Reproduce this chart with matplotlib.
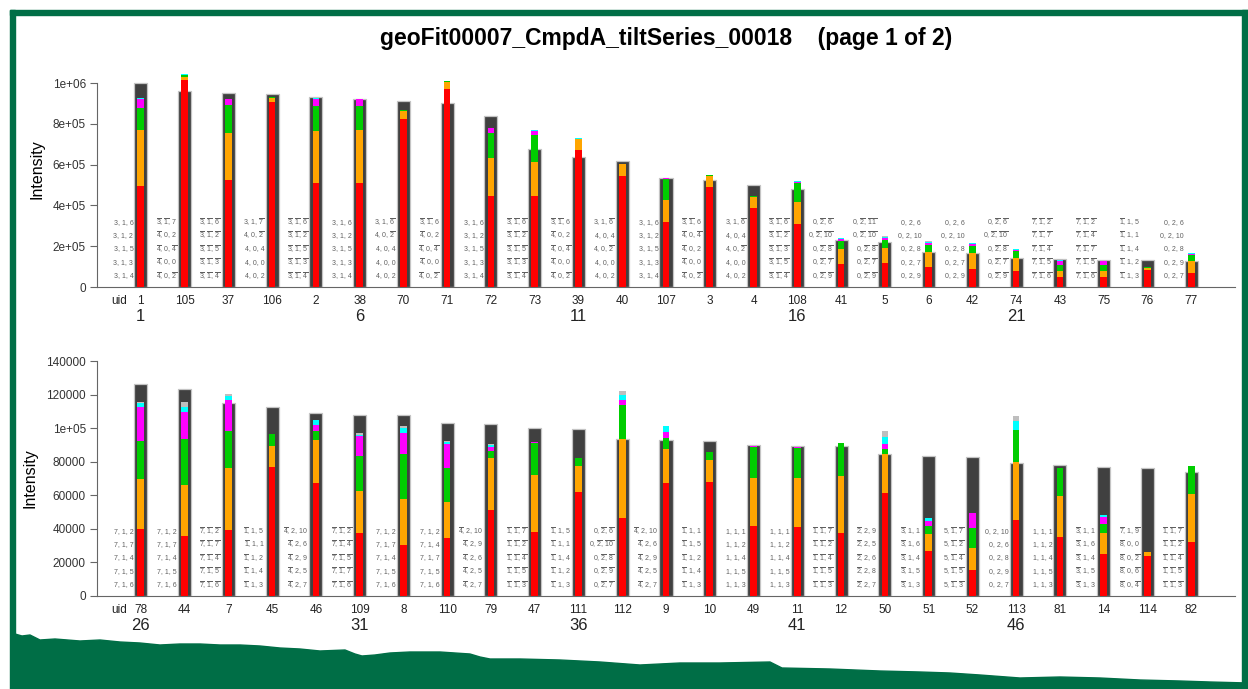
import matplotlib
matplotlib.use("Agg")
import matplotlib.pyplot as plt
import matplotlib.transforms as mtransforms
from matplotlib.patches import Rectangle, Polygon

plt.rcParams['font.family'] = ['Liberation Sans', 'DejaVu Sans']
plt.rcParams['mathtext.fontset'] = 'custom'
plt.rcParams['mathtext.rm'] = 'Liberation Sans'
plt.rcParams['mathtext.it'] = 'Liberation Sans'

TITLE = "geoFit00007_CmpdA_tiltSeries_00018    (page 1 of 2)"

# ---- page part 1 (reflections 1..25) ----
uids_top = [1, 105, 37, 106, 2, 38, 70, 71, 72, 73, 39, 40, 107, 3, 4, 108,
            41, 5, 6, 42, 74, 43, 75, 76, 77]
obs_top = [998e3, 959e3, 952e3, 948e3, 930e3, 923e3, 914e3, 900e3, 840e3, 678e3,
           639e3, 618e3, 533e3, 526e3, 498e3, 480e3, 230e3, 221e3, 173e3, 165e3,
           141e3, 136e3, 132e3, 132e3, 129e3]
red_top = [497e3, 1015e3, 523e3, 905e3, 511e3, 511e3, 825e3, 969e3, 448e3, 448e3,
           673e3, 546e3, 317e3, 490e3, 389e3, 310e3, 111e3, 119e3, 97e3, 90e3,
           78e3, 48e3, 49e3, 83e3, 67e3]
orange_top = [274e3, 16e3, 233e3, 20e3, 254e3, 259e3, 38e3, 34e3, 186e3, 163e3,
              51e3, 55e3, 108e3, 56e3, 54e3, 108e3, 74e3, 72e3, 73e3, 75e3,
              66e3, 32e3, 31e3, 9e3, 62e3]
green_top = [105e3, 8e3, 135e3, 6e3, 122e3, 117e3, 5e3, 7e3, 119e3, 134e3,
             2e3, 2e3, 103e3, 2e3, 5e3, 90e3, 40e3, 39e3, 36e3, 36e3,
             31e3, 26e3, 26e3, 8e3, 28e3]
magenta_top = [47e3, 0, 30e3, 0, 36e3, 34e3, 0, 0, 25e3, 20e3,
               0, 0, 6e3, 0, 0, 7e3, 10e3, 10e3, 8e3, 8e3,
               8e3, 23e3, 20e3, 0, 4e3]
cyan_top = [3e3, 3e3, 3e3, 1e3, 3e3, 3e3, 1e3, 2e3, 3e3, 3e3,
            3e3, 0, 2e3, 1e3, 0, 6e3, 5e3, 6e3, 7e3, 6e3,
            4e3, 4e3, 3e3, 0, 5e3]
grey_top = [0, 2e3, 0, 0, 0, 0, 0, 0, 0, 0,
            0, 0, 0, 0, 0, 0, 2e3, 2e3, 3e3, 2e3,
            1e3, 3e3, 0, 0, 2e3]
hkl_top = [
    ["3,1,6", "3,1,2", "3,1,5", "3,1,3", "3,1,4"],
    ["-3,-1,7", "-4,0,2", "-4,0,-4", "-4,0,0", "-4,0,-2"],
    ["-3,-1,-6", "-3,-1,-2", "-3,-1,-5", "-3,-1,-3", "-3,-1,-4"],
    ["3,1,-7", "4,0,-2", "4,0,4", "4,0,0", "4,0,2"],
    ["-3,-1,-6", "-3,-1,-2", "-3,-1,-5", "-3,-1,-3", "-3,-1,-4"],
    ["3,1,6", "3,1,2", "3,1,5", "3,1,3", "3,1,4"],
    ["3,1,-6", "4,0,-2", "4,0,4", "4,0,0", "4,0,2"],
    ["-3,-1,6", "-4,0,2", "-4,0,-4", "-4,0,0", "-4,0,-2"],
    ["3,1,6", "3,1,2", "3,1,5", "3,1,3", "3,1,4"],
    ["-3,-1,-6", "-3,-1,-2", "-3,-1,-5", "-3,-1,-3", "-3,-1,-4"],
    ["-3,-1,6", "-4,0,2", "-4,0,-4", "-4,0,0", "-4,0,-2"],
    ["3,1,-6", "4,0,4", "4,0,-2", "4,0,0", "4,0,2"],
    ["3,1,6", "3,1,2", "3,1,5", "3,1,3", "3,1,4"],
    ["-3,-1,6", "-4,0,-4", "-4,0,2", "-4,0,0", "-4,0,-2"],
    ["3,1,-6", "4,0,4", "4,0,-2", "4,0,0", "4,0,2"],
    ["-3,-1,-6", "-3,-1,-2", "-3,-1,-3", "-3,-1,-5", "-3,-1,-4"],
    ["0,-2,-6", "0,-2,-10", "0,-2,-8", "0,-2,-7", "0,-2,-9"],
    ["0,-2,-11", "0,-2,-10", "0,-2,-8", "0,-2,-7", "0,-2,-9"],
    ["0,2,6", "0,2,10", "0,2,8", "0,2,7", "0,2,9"],
    ["0,2,6", "0,2,10", "0,2,8", "0,2,7", "0,2,9"],
    ["0,-2,-6", "0,-2,-10", "0,-2,-8", "0,-2,-7", "0,-2,-9"],
    ["-7,-1,-2", "-7,-1,-7", "-7,-1,-4", "-7,-1,-5", "-7,-1,-6"],
    ["-7,-1,-2", "-7,-1,-4", "-7,-1,-7", "-7,-1,-5", "-7,-1,-6"],
    ["-1,1,5", "-1,1,1", "-1,1,4", "-1,1,2", "-1,1,3"],
    ["0,2,6", "0,2,10", "0,2,8", "0,2,9", "0,2,7"],
]

# ---- page part 2 (reflections 26..50) ----
uids_bot = [78, 44, 7, 45, 46, 109, 8, 110, 79, 47, 111, 112, 9, 10, 49, 11,
            12, 50, 51, 52, 113, 81, 14, 114, 82]
obs_bot = [126300, 123500, 115000, 112600, 109000, 107600, 107600, 103200, 102300, 100300,
           99700, 93700, 92900, 92100, 90000, 89200, 89400, 84600, 83400, 82800,
           79200, 78000, 76800, 76300, 73900]
red_bot = [39900, 35900, 39300, 77000, 67100, 37700, 30200, 34400, 51000, 38100,
           62000, 46600, 67300, 68100, 41500, 41100, 37700, 61400, 27000, 15500,
           45300, 35300, 24800, 23800, 32300]
orange_bot = [29600, 30400, 37100, 12100, 25600, 24800, 27600, 21800, 31400, 33800,
              15600, 46700, 20100, 13100, 29000, 29000, 33800, 23200, 9800, 12900,
              34500, 24300, 12500, 2200, 28700]
green_bot = [22800, 27200, 21700, 7200, 5400, 21100, 26600, 20200, 4000, 19400,
             4400, 20300, 6700, 4800, 18300, 18300, 19600, 3000, 5100, 11900,
             19100, 16700, 5600, 300, 16400]
magenta_bot = [20400, 16300, 18700, 0, 3900, 11900, 12700, 14300, 2200, 600,
               0, 3300, 3800, 0, 400, 400, 0, 3000, 3000, 9000,
               0, 0, 4000, 0, 0]
cyan_bot = [2400, 2600, 2500, 0, 2800, 700, 3200, 1000, 1200, 0,
            0, 2800, 3400, 0, 0, 0, 0, 4000, 1400, 0,
            5400, 0, 1400, 0, 0]
grey_bot = [500, 3000, 800, 0, 0, 700, 800, 600, 700, 0,
            0, 2600, 0, 0, 0, 0, 0, 3700, 0, 0,
            2900, 0, 0, 0, 0]
hkl_bot = [
    ["7,1,2", "7,1,7", "7,1,4", "7,1,5", "7,1,6"],
    ["7,1,2", "7,1,7", "7,1,4", "7,1,5", "7,1,6"],
    ["-7,-1,-2", "-7,-1,-7", "-7,-1,-4", "-7,-1,-5", "-7,-1,-6"],
    ["-1,1,5", "-1,1,1", "-1,1,2", "-1,1,4", "-1,1,3"],
    ["-4,2,10", "-4,2,6", "-4,2,9", "-4,2,5", "-4,2,7"],
    ["-7,-1,-2", "-7,-1,-4", "-7,-1,-5", "-7,-1,-7", "-7,-1,-6"],
    ["7,1,2", "7,1,7", "7,1,4", "7,1,5", "7,1,6"],
    ["7,1,2", "7,1,4", "7,1,7", "7,1,5", "7,1,6"],
    ["-4,2,10", "-4,2,9", "-4,2,6", "-4,2,5", "-4,2,7"],
    ["-1,-1,-7", "-1,-1,-2", "-1,-1,-4", "-1,-1,-5", "-1,-1,-3"],
    ["-1,1,5", "-1,1,1", "-1,1,4", "-1,1,2", "-1,1,3"],
    ["0,-2,-6", "0,-2,-10", "0,-2,-8", "0,-2,-9", "0,-2,-7"],
    ["-4,2,10", "-4,2,6", "-4,2,9", "-4,2,5", "-4,2,7"],
    ["-1,1,1", "-1,1,5", "-1,1,2", "-1,1,4", "-1,1,3"],
    ["1,1,1", "1,1,2", "1,1,4", "1,1,5", "1,1,3"],
    ["1,1,1", "1,1,2", "1,1,4", "1,1,5", "1,1,3"],
    ["-1,-1,-7", "-1,-1,-2", "-1,-1,-4", "-1,-1,-5", "-1,-1,-3"],
    ["-2,2,9", "-2,2,5", "-2,2,6", "-2,2,8", "-2,2,7"],
    ["-3,1,1", "-3,1,6", "-3,1,4", "-3,1,5", "-3,1,3"],
    ["5,-1,-7", "5,-1,-2", "5,-1,-4", "5,-1,-5", "5,-1,-3"],
    ["0,2,10", "0,2,6", "0,2,8", "0,2,9", "0,2,7"],
    ["1,1,1", "1,1,2", "1,1,4", "1,1,5", "1,1,3"],
    ["-3,1,1", "-3,1,6", "-3,1,4", "-3,1,5", "-3,1,3"],
    ["-7,1,-9", "-8,0,0", "-8,0,-2", "-8,0,-6", "-8,0,-4"],
    ["-1,-1,-7", "-1,-1,-2", "-1,-1,-4", "-1,-1,-5", "-1,-1,-3"],
]

yticks_top = [0, 2e5, 4e5, 6e5, 8e5, 1e6]
yticklabels_top = ["0", "2e+05", "4e+05", "6e+05", "8e+05", "1e+06"]
yticks_bot = [0, 20000, 40000, 60000, 80000, 100000, 120000, 140000]
yticklabels_bot = ["0", "20000", "40000", "60000", "80000", "1e+05", "120000", "140000"]

# decorative footer outline (pixel x, pixel y)
footer_x = [11, 15, 22, 30, 40, 55, 80, 100, 120, 140, 160, 180, 200, 220, 240, 260,
            280, 300, 320, 345, 355, 362, 375, 390, 410, 440, 470, 480, 490, 520,
            560, 600, 640, 680, 720, 770, 776, 782, 830, 880, 920, 950, 980, 1020,
            1060, 1100, 1140, 1180, 1210, 1248]
footer_y = [632, 634, 636, 635, 640, 639, 641, 640, 642, 643, 645, 644, 644, 645, 645, 646,
            648, 649, 651, 650, 654, 656, 655, 653, 652, 652, 654, 657, 659, 659,
            660, 662, 665, 663, 663, 662, 665, 668, 669, 671, 672, 673, 675, 678,
            677, 678, 680, 681, 682, 683]

seg_colors = ['#ff0000', '#ffa500', '#00cd00', '#ff00ff', '#00ffff', '#bebebe']
GREEN = '#006e46'
W, H = 1248, 689


def hkl_text(s):
    out = []
    for p in s.split(','):
        if p.startswith('-'):
            out.append(r'$\overline{%s}$' % p[1:])
        else:
            out.append(p)
    return ', '.join(out)


def draw_panel(ax, uids, obs, segs, hkls, first, ytop, yticks, yticklabels):
    x = list(range(len(uids)))
    ax.bar(x, obs, width=0.30, color='#404040', edgecolor='#c4c4c4', linewidth=0.9, zorder=2)
    bottom = [0.0] * len(uids)
    for vals, c in zip(segs, seg_colors):
        ax.bar(x, vals, width=0.15, bottom=bottom, color=c, linewidth=0, zorder=3)
        bottom = [b + v for b, v in zip(bottom, vals)]

    ax.set_xlim(-1, 25)
    ax.set_ylim(0, ytop)
    for s in ['top', 'right']:
        ax.spines[s].set_visible(False)
    ax.spines['left'].set_bounds(yticks[0], yticks[-1])
    ax.spines['left'].set_color('#666666')
    ax.spines['bottom'].set_color('#666666')
    ax.set_xticks([])
    ax.set_yticks(yticks)
    ax.set_yticklabels(yticklabels)
    ax.tick_params(axis='y', length=5, width=0.8, color='#666666', labelsize=8.5,
                   labelcolor='#333333', pad=3)
    ax.set_ylabel('Intensity', fontsize=11.5, labelpad=6)

    tr = mtransforms.blended_transform_factory(ax.transData, ax.transAxes)
    rows = [0.275, 0.218, 0.161, 0.104, 0.047]
    for i, labs in enumerate(hkls):
        for r, lab in zip(rows, labs):
            ax.text(i - 0.17, r, hkl_text(lab), transform=tr, ha='right', va='center',
                    fontsize=5, color='#606060')
        ax.text(i, -0.06, str(uids[i]), transform=tr, ha='center', va='center',
                fontsize=8.5, color='#222222')
        if i % 5 == 0:
            ax.text(i, -0.125, str(first + i), transform=tr, ha='center', va='center',
                    fontsize=12, color='#222222')
    ax.text(-0.5, -0.06, 'uid', transform=tr, ha='center', va='center',
            fontsize=8.5, color='#222222')


fig = plt.figure(figsize=(W / 100, H / 100), dpi=100)

ax_h = 236 / H
left = 97 / W
width = (1235 - 97) / W
ax1 = fig.add_axes([left, 1 - 287 / H, width, ax_h])
ax2 = fig.add_axes([left, 1 - 596 / H, width, ax_h])

draw_panel(ax1, uids_top, obs_top,
           [red_top, orange_top, green_top, magenta_top, cyan_top, grey_top],
           hkl_top, 1, 236 * 1e6 / 204, yticks_top, yticklabels_top)
draw_panel(ax2, uids_bot, obs_bot,
           [red_bot, orange_bot, green_bot, magenta_bot, cyan_bot, grey_bot],
           hkl_bot, 26, 236 * 140000 / 235, yticks_bot, yticklabels_bot)

fig.text(666 / W, 1 - 38 / H, TITLE, ha='center', va='center', fontsize=16.5,
         fontweight='bold')

# page frame and footer
px = fig.transFigure
fig.patches.append(Rectangle((10 / W, 0), 5 / W, 1 - 10 / H, color=GREEN, transform=px,
                             figure=fig, zorder=5))
fig.patches.append(Rectangle((10 / W, 1 - 15 / H), 1 - 10 / W, 5 / H, color=GREEN,
                             transform=px, figure=fig, zorder=5))
fig.patches.append(Rectangle((1 - 6 / W, 0), 6 / W, 1 - 10 / H, color=GREEN, transform=px,
                             figure=fig, zorder=5))
pts = [(fx / W, 1 - fy / H) for fx, fy in zip(footer_x, footer_y)]
pts += [(1, 0), (11 / W, 0)]
fig.patches.append(Polygon(pts, closed=True, color=GREEN, transform=px, figure=fig,
                           zorder=5))

fig.savefig('out.png', dpi=100)
